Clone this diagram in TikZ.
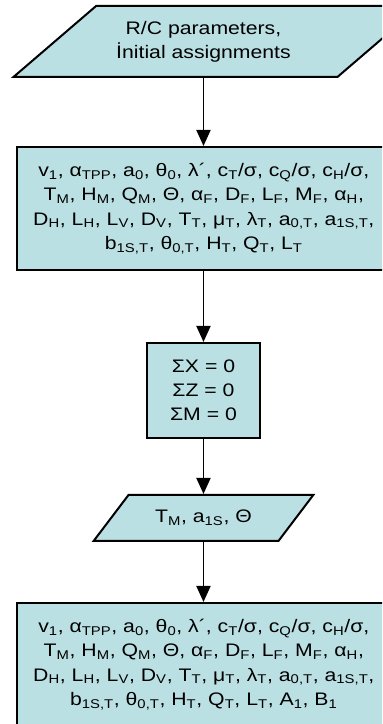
\documentclass[tikz,border=0pt]{standalone}
\usepackage{fontspec}
\setmainfont{Liberation Sans}[FakeStretch=1.17]
\usepackage{xcolor}
\usetikzlibrary{arrows.meta, positioning, shapes.geometric}
\definecolor{boxfill}{RGB}{187,224,227}
\newcommand{\lo}[1]{\textsubscript{#1}}

\begin{document}
\begin{tikzpicture}[
    font=\fontsize{13.6}{18.2}\selectfont,
    box/.style={rectangle, draw=black, line width=1.5pt, fill=boxfill, minimum width=300pt, minimum height=92.25pt, align=center},
    sumbox/.style={rectangle, draw=black, line width=1.5pt, fill=boxfill, minimum width=84.75pt, minimum height=71.25pt, align=center},
    iobox/.style={trapezium, trapezium left angle=43, trapezium right angle=137, trapezium stretches=true, draw=black, line width=1.5pt, fill=boxfill, align=center},
    arrow/.style={-{Triangle[width=10.5pt,length=12pt]}, line width=1.4pt}
]
\useasboundingbox (0,0) rectangle (286.5pt,-543pt);
\clip (0,0) rectangle (286.5pt,-543pt);
\node[iobox, minimum width=305.75pt, minimum height=53.25pt] (rcpar) at (162.6pt,-31.1pt) {\hspace*{-20pt}R/C parameters,\\\hspace*{-20pt}İnitial assignments};
\node[box, below=51pt of rcpar] (trimvars) {\hspace*{-19.5pt}v\lo{1}, α\lo{TPP}, a\lo{0}, θ\lo{0}, λ´, c\lo{T}/σ, c\lo{Q}/σ, c\lo{H}/σ,\\
\hspace*{-19.5pt}T\lo{M}, H\lo{M}, Q\lo{M}, Θ, α\lo{F}, D\lo{F}, L\lo{F}, M\lo{F}, α\lo{H},\\
\hspace*{-19.5pt}D\lo{H}, L\lo{H}, L\lo{V}, D\lo{V}, T\lo{T}, μ\lo{T}, λ\lo{T}, a\lo{0,T}, a\lo{1S,T},\\
\hspace*{-19.5pt}b\lo{1S,T}, θ\lo{0,T}, H\lo{T}, Q\lo{T}, L\lo{T}};
\node[sumbox, below=53.25pt of trimvars, xshift=-10pt] (balance) {ΣX = 0\\ΣZ = 0\\ΣM = 0};
\node[iobox, trapezium left angle=45, trapezium right angle=135, minimum width=165pt, minimum height=34.5pt, below=41.25pt of balance] (solved) {T\lo{M}, a\lo{1S}, Θ};
\node[box, below=45pt of solved, xshift=10pt] (results) {\hspace*{-19.5pt}v\lo{1}, α\lo{TPP}, a\lo{0}, θ\lo{0}, λ´, c\lo{T}/σ, c\lo{Q}/σ, c\lo{H}/σ,\\
\hspace*{-19.5pt}T\lo{M}, H\lo{M}, Q\lo{M}, Θ, α\lo{F}, D\lo{F}, L\lo{F}, M\lo{F}, α\lo{H},\\
\hspace*{-19.5pt}D\lo{H}, L\lo{H}, L\lo{V}, D\lo{V}, T\lo{T}, μ\lo{T}, λ\lo{T}, a\lo{0,T}, a\lo{1S,T},\\
\hspace*{-19.5pt}b\lo{1S,T}, θ\lo{0,T}, H\lo{T}, Q\lo{T}, L\lo{T}, A\lo{1}, B\lo{1}};

\draw[arrow] (rcpar.south -| balance) -- (trimvars.north -| balance);
\draw[arrow] (trimvars.south -| balance) -- (balance.north);
\draw[arrow] (balance.south) -- (solved.north);
\draw[arrow] (solved.south) -- (results.north -| balance);
\end{tikzpicture}
\end{document}
